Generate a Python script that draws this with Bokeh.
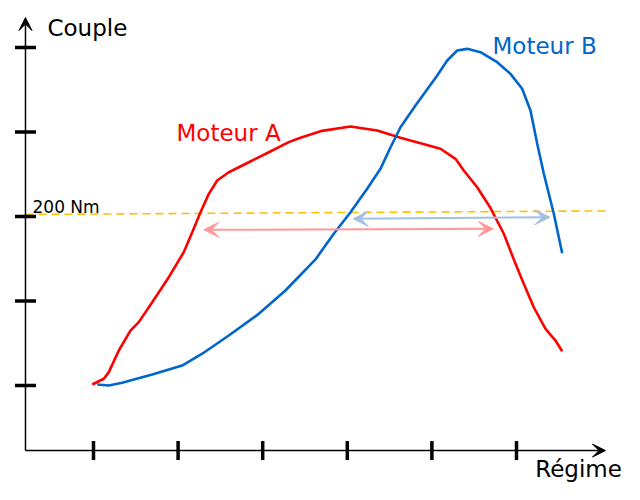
from bokeh.plotting import figure
from bokeh.models import Range1d, Label, Arrow, VeeHead
from bokeh.embed import file_html
from bokeh.resources import INLINE
import math

# ---- data (régime in tr/min, couple in Nm) ----
regime_a = [985, 1122, 1181, 1299, 1437, 1535, 1694, 1890, 2067, 2167, 2265, 2363,
            2462, 2599, 2836, 3072, 3308, 3447, 3683, 4038, 4353, 4628, 4865, 5101,
            5279, 5377, 5535, 5693, 5850, 5968, 6086, 6204, 6343, 6461, 6540]
couple_a = [100.6, 104.0, 107.9, 120.7, 132.5, 137.5, 149.3, 164.1, 178.9, 190.7, 202.5, 213.4,
            221.3, 226.2, 232.1, 238.0, 244.0, 246.6, 250.5, 253.3, 250.9, 246.6, 243.4, 240.1,
            234.1, 227.2, 217.3, 205.0, 189.8, 174.6, 160.2, 146.3, 133.5, 126.6, 120.3]

regime_b = [1044, 1181, 1339, 1694, 2048, 2285, 2599, 2954, 3269, 3624, 3840, 4038,
            4235, 4392, 4511, 4629, 4806, 5063, 5181, 5299, 5417, 5574, 5772, 5929,
            6067, 6165, 6245, 6323, 6441, 6540]
couple_b = [100.6, 100.0, 101.6, 106.5, 111.8, 118.8, 129.6, 142.4, 156.2, 174.6, 189.8, 202.5,
            216.4, 228.2, 241.0, 252.8, 265.7, 283.4, 292.3, 298.2, 299.2, 297.2, 291.3, 284.4,
            275.6, 262.7, 243.0, 225.3, 201.6, 178.3]

x_ticks = [1000, 2000, 3000, 4000, 5000, 6000]
y_ticks = [100, 150, 200, 250, 300]

axis_x0, axis_x1 = 196, 7052      # x axis extent
axis_y0, axis_y1 = 61.5, 317.7    # y axis extent

seuil_x = [196, 7075]             # 200 Nm line
seuil_y = [201.2, 203.3]

plage_a_x = [2304, 5725]
plage_a_y = [192.1, 192.7]
plage_b_x = [4070, 6393]
plage_b_y = [198.6, 199.6]

FONT = "DejaVu Sans"

p = figure(width=624, height=484, output_backend="svg", toolbar_location=None,
           x_range=Range1d(-99.3, 7276.6), y_range=Range1d(41.42, 327.81),
           x_axis_location=None, y_axis_location=None, min_border=0)
p.outline_line_color = None
p.xgrid.visible = False
p.ygrid.visible = False
p.background_fill_color = "white"

# threshold dashed line
p.line(seuil_x, seuil_y, line_color="#FFC000", line_width=1.6, line_dash="8 5")

# curves
p.line(regime_a, couple_a, line_color="#FF0000", line_width=2.6)
p.line(regime_b, couple_b, line_color="#0066CC", line_width=2.6)

# double arrows
for xs, ys, col in [(plage_a_x, plage_a_y, "#FF9999"), (plage_b_x, plage_b_y, "#A3C0E2")]:
    p.add_layout(Arrow(x_start=xs[0], y_start=ys[0], x_end=xs[1], y_end=ys[1],
                       line_color=col, line_width=2,
                       start=VeeHead(size=15, fill_color=col, line_color=col, line_width=1),
                       end=VeeHead(size=15, fill_color=col, line_color=col, line_width=1)))

# axes with arrowheads
p.add_layout(Arrow(x_start=axis_x0, y_start=axis_y0, x_end=axis_x1, y_end=axis_y0,
                   line_color="black", line_width=1.5,
                   end=VeeHead(size=13, fill_color="black", line_color="black", line_width=1)))
p.add_layout(Arrow(x_start=axis_x0, y_start=axis_y0, x_end=axis_x0, y_end=axis_y1,
                   line_color="black", line_width=1.5,
                   end=VeeHead(size=13, fill_color="black", line_color="black", line_width=1)))

# tick marks
p.scatter([axis_x0] * len(y_ticks), y_ticks, marker="dash", size=21,
          line_color="black", line_width=3.5)
p.scatter(x_ticks, [axis_y0] * len(x_ticks), marker="dash", size=19, angle=math.pi / 2,
          line_color="black", line_width=3.5)

# texts
def lab(x, y, t, col, size, align="left"):
    p.add_layout(Label(x=x, y=y, text=t, text_color=col, text_font=FONT,
                       text_font_size=size, text_baseline="alphabetic", text_align=align))

lab(456, 311.8, "Couple", "black", "23px")
lab(7245, 50.5, "Régime", "black", "23px", align="right")
lab(279, 205.9, "200 Nm", "black", "17px")
lab(1981, 249.7, "Moteur A", "#FF0000", "23px")
lab(5716, 300.6, "Moteur B", "#0066CC", "23px")

open("out.html", "w").write(file_html(p, INLINE))
